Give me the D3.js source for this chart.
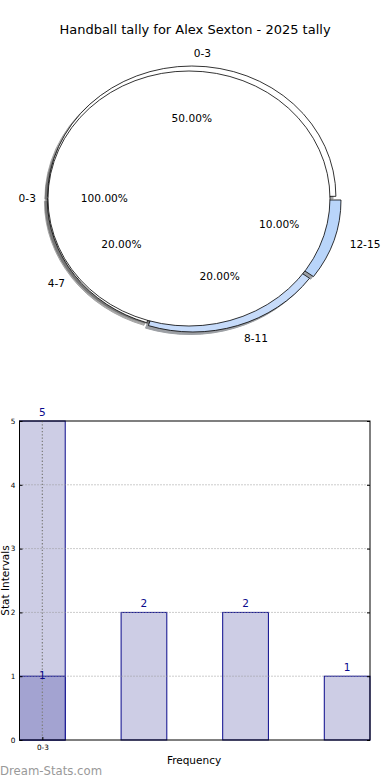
<!DOCTYPE html>
<html>
<head>
<meta charset="utf-8">
<script src="https://cdn.jsdelivr.net/npm/d3@7"></script>
<style>
  body { margin: 0; background: #fff; }
  svg { display: block; font-family: "DejaVu Sans", sans-serif; }
</style>
</head>
<body>
<svg width="390" height="780"></svg>
<script>
// chart data
var title = "Handball tally for Alex Sexton - 2025 tally";
var innerLabels = ["0-3"];
var innerValues = [1];
var ringLabels = ["0-3", "4-7", "8-11", "12-15"];
var ringValues = [5, 2, 2, 1];
var barCategories = ["0-3", "4-7", "8-11", "12-15"];
var barTotals = [5, 2, 2, 1];
var barHighlight = [1];          // darker overlay on the first bar
var yTicks = [0, 1, 2, 3, 4, 5];
var xTickShown = ["0-3"];

// pie look
var ringExplode = [0.017, 0.004, 0.026, 0.038];
var innerExplode = [0.02];
var ringColors = ["#ffffff", "#ffffff", "#c6dbfa", "#b9d5fa"];
var innerColors = ["#ffffff"];
var ringR = 1.022;

var svg = d3.select("svg");

svg.append("text")
    .attr("x", 195).attr("y", 34)
    .attr("text-anchor", "middle")
    .style("font-size", "13px")
    .text(title);

// ---- pie (unit coordinates, stretched to an ellipse) ----
var cx = 191.8, cy = 198.5, sx = 141, sy = 127.5;
var pie = d3.pie().sort(null)
    .startAngle(Math.PI / 2)
    .endAngle(Math.PI / 2 - 2 * Math.PI);

var ringArcs = pie(ringValues);
var innerArcs = pie(innerValues);

function mid(d) { return (d.startAngle + d.endAngle) / 2; }
function offset(d, e) { var m = mid(d); return [e * Math.sin(m), -e * Math.cos(m)]; }

var gp = svg.append("g")
    .attr("transform", "translate(" + cx + "," + cy + ") scale(" + sx + "," + sy + ")");

var ringArc = d3.arc().innerRadius(0).outerRadius(ringR);
var innerArc = d3.arc().innerRadius(0).outerRadius(1);

// shadows first, under every wedge
function shadowColor(c) {
  var r = d3.rgb(c);
  return d3.rgb(r.r * 0.3, r.g * 0.3, r.b * 0.3).toString();
}
var shadowDx = -0.02, shadowDy = 0.02;

gp.selectAll("path.rshadow")
    .data(ringArcs)
  .enter().append("path")
    .attr("class", "rshadow")
    .attr("d", ringArc)
    .attr("transform", function(d, i) {
      var o = offset(d, ringExplode[i]);
      return "translate(" + (o[0] + shadowDx) + "," + (o[1] + shadowDy) + ")";
    })
    .style("fill", function(d, i) { return shadowColor(ringColors[i]); })
    .style("stroke", function(d, i) { return shadowColor(ringColors[i]); })
    .style("opacity", 0.5)
    .attr("vector-effect", "non-scaling-stroke");

gp.selectAll("path.ishadow")
    .data(innerArcs)
  .enter().append("path")
    .attr("class", "ishadow")
    .attr("d", innerArc)
    .attr("transform", function(d, i) {
      var o = offset(d, innerExplode[i]);
      return "translate(" + (o[0] + shadowDx) + "," + (o[1] + shadowDy) + ")";
    })
    .style("fill", function(d, i) { return shadowColor(innerColors[i]); })
    .style("stroke", function(d, i) { return shadowColor(innerColors[i]); })
    .style("opacity", 0.5)
    .attr("vector-effect", "non-scaling-stroke");

gp.selectAll("path.ring")
    .data(ringArcs)
  .enter().append("path")
    .attr("class", "ring")
    .attr("d", ringArc)
    .attr("transform", function(d, i) {
      var o = offset(d, ringExplode[i]);
      return "translate(" + o[0] + "," + o[1] + ")";
    })
    .style("fill", function(d, i) { return ringColors[i]; })
    .style("stroke", "#000")
    .style("stroke-width", 0.8)
    .attr("vector-effect", "non-scaling-stroke");

gp.selectAll("path.inner")
    .data(innerArcs)
  .enter().append("path")
    .attr("class", "inner")
    .attr("d", innerArc)
    .attr("transform", function(d, i) {
      var o = offset(d, innerExplode[i]);
      return "translate(" + o[0] + "," + o[1] + ")";
    })
    .style("fill", function(d, i) { return innerColors[i]; })
    .style("stroke", "#000")
    .style("stroke-width", 0.8)
    .attr("vector-effect", "non-scaling-stroke");

// pie texts in pixel space
function pieText(arcs, labels, explode, radius) {
  var total = d3.sum(arcs, function(d) { return d.value; });
  arcs.forEach(function(d, i) {
    var m = mid(d), o = offset(d, explode[i]);
    var lx = (o[0] + 1.1 * radius * Math.sin(m)) * sx + cx;
    var ly = (o[1] - 1.1 * radius * Math.cos(m)) * sy + cy;
    svg.append("text")
        .attr("x", lx + (lx >= cx - 0.01 ? 2 : 2)).attr("y", ly)
        .attr("dy", "0.35em")
        .attr("text-anchor", lx >= cx - 0.01 ? "start" : "end")
        .style("font-size", "10.6px")
        .text(labels[i]);
    var px = (o[0] + 0.6 * radius * Math.sin(m)) * sx + cx;
    var py = (o[1] - 0.6 * radius * Math.cos(m)) * sy + cy;
    svg.append("text")
        .attr("x", px).attr("y", py)
        .attr("dy", "0.35em")
        .attr("text-anchor", "middle")
        .style("font-size", "10.6px")
        .text((d.value / total * 100).toFixed(2) + "%");
  });
}
pieText(ringArcs, ringLabels, ringExplode, ringR);
pieText(innerArcs, innerLabels, innerExplode, 1);

// ---- bar chart ----
var plotL = 19.5, plotR = 370, plotT = 421, plotB = 740;
var x = d3.scaleLinear().domain([-0.225, 3.225]).range([plotL, plotR]);
var y = d3.scaleLinear().domain([0, 5]).range([plotB, plotT]);
var bw = 0.45;
var navy = "#0a0a8c";

var gb = svg.append("g");

gb.selectAll("rect.bar")
    .data(barTotals)
  .enter().append("rect")
    .attr("class", "bar")
    .attr("x", function(d, i) { return x(i - bw / 2); })
    .attr("width", x(bw) - x(0))
    .attr("y", function(d) { return y(d); })
    .attr("height", function(d) { return y(0) - y(d); })
    .style("fill", "#cdcde5")
    .style("stroke", navy)
    .style("stroke-width", 1);

gb.selectAll("rect.hi")
    .data(barHighlight)
  .enter().append("rect")
    .attr("class", "hi")
    .attr("x", function(d, i) { return x(i - bw / 2); })
    .attr("width", x(bw) - x(0))
    .attr("y", function(d) { return y(d); })
    .attr("height", function(d) { return y(0) - y(d); })
    .style("fill", "#a3a3d1")
    .style("stroke", navy)
    .style("stroke-width", 1);

// dotted grid on top
gb.selectAll("line.hgrid")
    .data(yTicks.slice(1, -1))
  .enter().append("line")
    .attr("class", "hgrid")
    .attr("x1", plotL).attr("x2", plotR)
    .attr("y1", function(d) { return y(d); })
    .attr("y2", function(d) { return y(d); })
    .style("stroke", "#999")
    .style("stroke-dasharray", "1,2");

gb.selectAll("line.vgrid")
    .data(xTickShown)
  .enter().append("line")
    .attr("class", "vgrid")
    .attr("x1", function(d) { return x(barCategories.indexOf(d)); })
    .attr("x2", function(d) { return x(barCategories.indexOf(d)); })
    .attr("y1", plotT).attr("y2", plotB)
    .style("stroke", "#808080")
    .style("stroke-width", 1.3)
    .style("stroke-dasharray", "1.3,2");

// frame and ticks
gb.append("rect")
    .attr("x", plotL).attr("y", plotT)
    .attr("width", plotR - plotL).attr("height", plotB - plotT)
    .style("fill", "none").style("stroke", "#000").style("stroke-width", 1);

var yAxisL = d3.axisLeft(y).tickValues(yTicks).tickSize(-3).tickPadding(4).tickFormat(d3.format("d"));
var gy = svg.append("g").attr("transform", "translate(" + plotL + ",0)").call(yAxisL);
gy.select(".domain").remove();
gy.selectAll("text").style("font-size", "7.3px").style("font-family", "DejaVu Sans");

var yAxisR = d3.axisRight(y).tickValues(yTicks).tickSize(-3).tickFormat("");
var gyr = svg.append("g").attr("transform", "translate(" + plotR + ",0)").call(yAxisR);
gyr.select(".domain").remove();

var xAxis = d3.axisBottom(x)
    .tickValues(xTickShown.map(function(d) { return barCategories.indexOf(d); }))
    .tickSize(-3).tickPadding(5)
    .tickFormat(function(d) { return barCategories[d]; });
var gx = svg.append("g").attr("transform", "translate(0," + plotB + ")").call(xAxis);
gx.select(".domain").remove();
gx.selectAll("text").style("font-size", "7.3px").style("font-family", "DejaVu Sans");

// value labels
gb.selectAll("text.val")
    .data(barTotals)
  .enter().append("text")
    .attr("class", "val")
    .attr("x", function(d, i) { return x(i); })
    .attr("y", function(d) { return y(d) - 5; })
    .attr("text-anchor", "middle")
    .style("font-size", "10.5px")
    .style("fill", navy)
    .text(function(d) { return d; });

gb.selectAll("text.hival")
    .data(barHighlight)
  .enter().append("text")
    .attr("class", "hival")
    .attr("x", function(d, i) { return x(i); })
    .attr("y", function(d) { return y(d) + 3; })
    .attr("text-anchor", "middle")
    .style("font-size", "10.5px")
    .style("fill", navy)
    .text(function(d) { return d; });

svg.append("text")
    .attr("x", 194).attr("y", 764)
    .attr("text-anchor", "middle")
    .style("font-size", "10.5px")
    .text("Frequency");

svg.append("text")
    .attr("transform", "translate(8.5," + ((plotT + plotB) / 2) + ") rotate(-90)")
    .attr("text-anchor", "middle")
    .style("font-size", "10.5px")
    .text("Stat Intervals");

svg.append("text")
    .attr("x", 0).attr("y", 775)
    .style("font-size", "11.7px")
    .style("fill", "#999")
    .text("Dream-Stats.com");
</script>
</body>
</html>
